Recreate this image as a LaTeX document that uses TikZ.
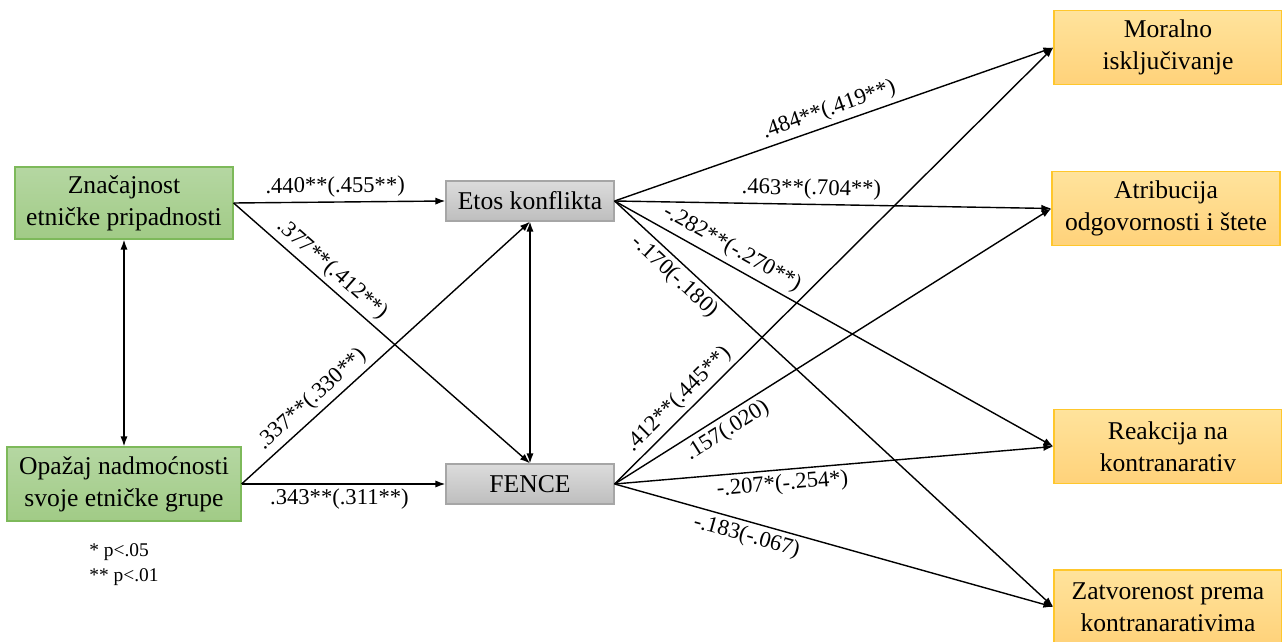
\documentclass[tikz,border=0pt]{standalone}
\usepackage{fontspec}
\setmainfont{Liberation Serif}
\usetikzlibrary{arrows.meta}
\definecolor{grtop}{HTML}{B5D7A2}
\definecolor{grbot}{HTML}{A1CB86}
\definecolor{grline}{HTML}{7DB95A}
\definecolor{gytop}{HTML}{DCDCDC}
\definecolor{gybot}{HTML}{BEBEBE}
\definecolor{gyline}{HTML}{A6A6A6}
\definecolor{ortop}{HTML}{FFE39C}
\definecolor{orbot}{HTML}{FFD27A}
\definecolor{orline}{HTML}{FFC72C}

\tikzset{
  var/.style={draw, line width=0.6pt, align=center, inner sep=0pt,
    font=\fontsize{12.8}{16}\selectfont},
  predictor/.style={var, draw=grline, top color=grtop, bottom color=grbot},
  mediator/.style={var, draw=gyline, top color=gytop, bottom color=gybot,
    minimum width=84pt, minimum height=20pt},
  outcome/.style={var, draw=orline, top color=ortop, bottom color=orbot,
    minimum width=114pt, minimum height=37pt},
  path/.style={->, line width=0.7pt},
  coef/.style={font=\fontsize{11.3}{13}\selectfont, inner sep=2pt, sloped},
}

\begin{document}
\begin{tikzpicture}[x=0.5pt, y=-0.5pt, >={Latex[length=5pt,width=3.6pt]}]
  \useasboundingbox (0,0) rectangle (1282,642);

  % Predictors
  \node[predictor, minimum width=109pt, minimum height=36pt] (znac) at (124,203)
    {Značajnost\\etničke pripadnosti};
  \node[predictor, minimum width=117pt, minimum height=37pt] (opaz) at (124,484)
    {Opažaj nadmoćnosti\\svoje etničke grupe};

  % Mediators
  \node[mediator] (etos) at (530,201) {Etos konflikta};
  \node[mediator] (fence) at (530,484) {FENCE};

  % Outcomes
  \node[outcome] (moral) at (1168,47.5) {Moralno\\isključivanje};
  \node[outcome] (atrib) at (1166,208.5) {Atribucija\\odgovornosti i štete};
  \node[outcome] (reak) at (1168,446.5) {Reakcija na\\kontranarativ};
  \node[outcome] (zatv) at (1168,607) {Zatvorenost prema\\kontranarativima};

  % Legend
  \node[anchor=west, align=left, inner sep=0pt, font=\fontsize{9.7}{12.5}\selectfont]
    (legend) at (89,565) {* p<.05\\** p<.01};

  % Correlations
  \draw[<->, line width=0.7pt] (znac.south) -- (opaz.north);
  \draw[<->, line width=0.7pt] (etos.south) -- (fence.north);

  % Predictors to mediators
  \draw[path] (znac.east) -- node[coef, above, pos=0.48] {.440**(.455**)} (etos.west);
  \draw[path] (znac.east) -- node[coef, above, pos=0.30] {.377**(.412**)} (fence.north);
  \draw[path] (opaz.east) -- node[coef, above, pos=0.28] {.337**(.330**)} (etos.south);
  \draw[path] (opaz.east) -- node[coef, below, pos=0.48] {.343**(.311**)} (fence.west);

  % Etos konflikta to outcomes
  \draw[path] (etos.east) -- node[coef, above, pos=0.50] {.484**(.419**)} (moral.west);
  \draw[path] (etos.east) -- node[coef, above, pos=0.45] {.463**(.704**)} (atrib.west);
  \draw[path] (etos.east) -- node[coef, above=0.5pt, pos=0.25] {-.282**(-.270**)} (reak.west);
  \draw[path] (etos.east) -- node[coef, below, pos=0.16] {-.170(-.180)} (zatv.west);

  % FENCE to outcomes
  \draw[path] (fence.east) -- node[coef, above, pos=0.17] {.412**(.445**)} (moral.west);
  \draw[path] (fence.east) -- node[coef, below, pos=0.24] {.157(.020)} (atrib.west);
  \draw[path] (fence.east) -- node[coef, below, pos=0.38] {-.207*(-.254*)} (reak.west);
  \draw[path] (fence.east) -- node[coef, below, pos=0.31] {-.183(-.067)} (zatv.west);
\end{tikzpicture}
\end{document}
